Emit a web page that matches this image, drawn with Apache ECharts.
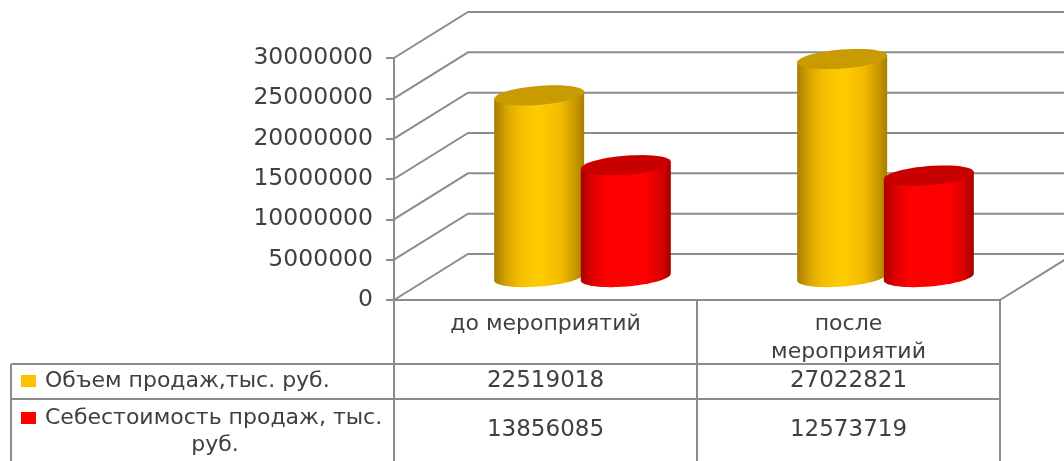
<!DOCTYPE html>
<html><head><meta charset="utf-8">
<style>html,body{margin:0;padding:0;background:#fff}#c{width:1064px;height:461px}</style>
<script src="https://cdn.jsdelivr.net/npm/echarts@6/dist/echarts.min.js"></script>
</head><body><div id="c"></div>
<script>
const categories = ['до мероприятий', 'после\nмероприятий'];
const seriesNames = ['Объем продаж,тыс. руб.', 'Себестоимость продаж, тыс. руб.'];
const salesValues = [22519018, 27022821];
const costValues = [13856085, 12573719];
const yTicks = [0, 5000000, 10000000, 15000000, 20000000, 25000000, 30000000];

const FONT = 'DejaVu Sans', TXT = '#404040', LINE = '#8c8c8c';
const DEPTH_X = 74, DEPTH_Y = -46, TILT = -0.08;

function tiltedPoint(cx, cy, rx, ry, t) {
  return [cx + rx * Math.cos(t) * Math.cos(TILT) - ry * Math.sin(t) * Math.sin(TILT),
          cy + rx * Math.cos(t) * Math.sin(TILT) + ry * Math.sin(t) * Math.cos(TILT)];
}
function cylinder(offsetShare, stops, topColor) {
  return function (params, api) {
    const band = api.size([1, 0])[0];
    const top = api.coord([api.value(0), api.value(1)]);
    const base = api.coord([api.value(0), 0]);
    const cx = top[0] + band * offsetShare + DEPTH_X / 2;
    const yTop = top[1] + DEPTH_Y / 2, yBase = base[1] + DEPTH_Y / 2;
    const rx = band * 0.149, ry = 9.5;
    const outline = [], cap = [];
    for (let i = 0; i <= 48; i++) {
      outline.push(tiltedPoint(cx, yBase, rx, ry, Math.PI - Math.PI * i / 48));
      cap.push(tiltedPoint(cx, yTop, rx, ry, 2 * Math.PI * i / 48));
    }
    const body = [tiltedPoint(cx, yTop, rx, ry, Math.PI)].concat(outline, [tiltedPoint(cx, yTop, rx, ry, 0)]);
    return { type: 'group', children: [
      { type: 'polygon', shape: { points: body }, style: { fill: new echarts.graphic.LinearGradient(0, 0, 1, 0, stops) } },
      { type: 'polygon', shape: { points: cap }, style: { fill: topColor } }
    ]};
  };
}
function stopsOf(list) { return list.map(([offset, color]) => ({ offset, color })); }
const yellowStops = stopsOf([[0,'#a67c00'],[0.14,'#d9a600'],[0.3,'#f5c000'],[0.5,'#ffcc00'],[0.75,'#f2ba00'],[0.9,'#c89800'],[1,'#a87f00']]);
const redStops = stopsOf([[0,'#a80000'],[0.12,'#dc0000'],[0.28,'#ff0000'],[0.72,'#ff0000'],[0.9,'#d80000'],[1,'#a00000']]);

function wallLine(params, api) {
  const cs = params.coordSys, p = api.coord([0, api.value(1)]);
  const y = p[1], x0 = cs.x, x1 = cs.x + cs.width;
  const style = { stroke: LINE, lineWidth: 2, fill: 'none' };
  return { type: 'group', children: [
    { type: 'polyline', shape: { points: [[x0, y], [x0 + DEPTH_X, y + DEPTH_Y], [x1 + DEPTH_X, y + DEPTH_Y]] }, style },
    ...(api.value(1) === 0 ? [{ type: 'line', shape: { x1: x1, y1: y, x2: x1 + DEPTH_X, y2: y + DEPTH_Y }, style }] : [])
  ]};
}

const tableLeft = 11, plotLeft = 394, plotMid = 697, plotRight = 1000;
const rowTop = 364, rowMid = 399, rowBottom = 461, plotBottom = 300;
function vline(x, y1, y2) { return { type: 'line', shape: { x1: x, y1, x2: x, y2 }, style: { stroke: LINE, lineWidth: 2 }, z: 5 }; }
function hline(y, x1, x2) { return { type: 'line', shape: { x1, y1: y, x2, y2: y }, style: { stroke: LINE, lineWidth: 2 }, z: 5 }; }
function cell(text, x, y, size) { return { type: 'text', x, y, z: 6, style: { text: String(text), font: size + 'px "' + FONT + '"', fill: TXT, align: 'center', verticalAlign: 'middle' } }; }

const chart = echarts.init(document.getElementById('c'), null, { renderer: 'canvas' });
chart.setOption({
  animation: false,
  backgroundColor: '#fff',
  grid: { left: plotLeft, top: 58, width: plotRight - plotLeft, height: plotBottom - 58, containLabel: false },
  legend: {
    show: true, orient: 'vertical', left: 21, top: 367, padding: 0, itemGap: 9,
    itemWidth: 15, itemHeight: 12, icon: 'rect', data: seriesNames,
    selectedMode: false,
    formatter: n => n === seriesNames[1] ? n.replace(/ руб\.$/, '') : n,
    textStyle: { fontFamily: FONT, fontSize: 22, color: TXT, lineHeight: 28, padding: [0, 0, 0, 4] }
  },
  xAxis: {
    type: 'category', data: categories,
    axisLine: { lineStyle: { color: LINE, width: 2 } }, axisTick: { show: false },
    splitLine: { show: false },
    axisLabel: { interval: 0, fontFamily: FONT, fontSize: 22, color: TXT, lineHeight: 28, margin: 10, verticalAlign: 'top' }
  },
  yAxis: {
    type: 'value', min: 0, max: 30000000, interval: 5000000,
    axisLine: { show: true, lineStyle: { color: LINE, width: 2 } },
    axisTick: { show: true, length: 8, lineStyle: { color: LINE, width: 2 } },
    splitLine: { show: false },
    axisLabel: { fontFamily: FONT, fontSize: 23.5, color: TXT, margin: 21, formatter: v => String(v) }
  },
  series: [
    { type: 'custom', name: 'wall', silent: true, z: 1, data: yTicks.map(v => [0, v]), encode: { x: 0, y: 1 }, renderItem: wallLine, clip: false },
    { type: 'custom', name: seriesNames[0], z: 3, itemStyle: { color: '#ffc000' }, data: salesValues.map((v, i) => [i, v]), encode: { x: 0, y: 1 }, renderItem: cylinder(-0.143, yellowStops, '#c89b00'), clip: false },
    { type: 'custom', name: seriesNames[1], z: 4, itemStyle: { color: '#ff0000' }, data: costValues.map((v, i) => [i, v]), encode: { x: 0, y: 1 }, renderItem: cylinder(0.143, redStops, '#c80000'), clip: false }
  ],
  graphic: { elements: [
    vline(plotLeft, plotBottom, rowBottom), vline(plotMid, plotBottom, rowBottom), vline(plotRight, plotBottom, rowBottom),
    vline(tableLeft, rowTop, rowBottom),
    hline(rowTop, tableLeft, plotRight), hline(rowMid, tableLeft, plotRight),
    cell(salesValues[0], (plotLeft + plotMid) / 2, 381, 23), cell(salesValues[1], (plotMid + plotRight) / 2, 381, 23),
    cell(costValues[0], (plotLeft + plotMid) / 2, 430, 23), cell(costValues[1], (plotMid + plotRight) / 2, 430, 23),
    cell('руб.', 215, 445, 22)
  ]}
});
</script></body></html>
